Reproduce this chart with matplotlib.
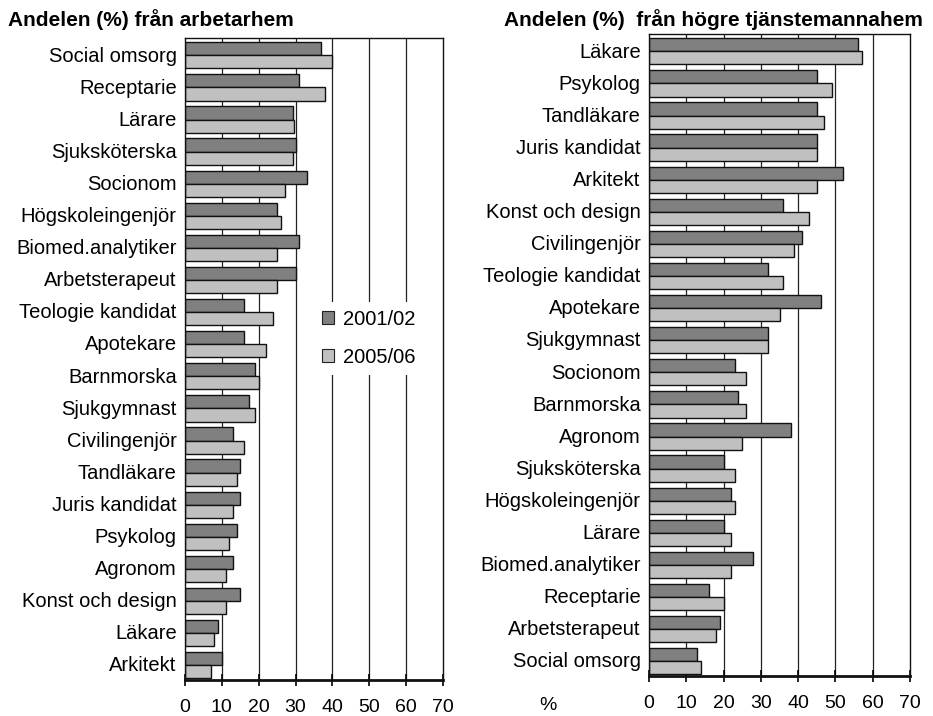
import matplotlib
matplotlib.use("Agg")
import matplotlib.pyplot as plt
from matplotlib.patches import Patch
import numpy as np

plt.rcParams['font.family'] = ['Liberation Sans', 'DejaVu Sans']

# Left panel: share (%) from working-class homes
left_title = "Andelen (%) från arbetarhem"
left_cats = ["Social omsorg", "Receptarie", "Lärare", "Sjuksköterska", "Socionom",
             "Högskoleingenjör", "Biomed.analytiker", "Arbetsterapeut", "Teologie kandidat",
             "Apotekare", "Barnmorska", "Sjukgymnast", "Civilingenjör", "Tandläkare",
             "Juris kandidat", "Psykolog", "Agronom", "Konst och design", "Läkare", "Arkitekt"]
left_2001 = [37, 31, 29.3, 30, 33, 25, 31, 30, 16, 16, 19, 17.3, 13, 15, 15, 14, 13, 15, 9, 10]
left_2005 = [40, 38, 29.7, 29.3, 27, 26, 25, 25, 24, 22, 20, 19, 16, 14, 13, 12, 11, 11, 8, 7]

# Right panel: share (%) from higher white-collar homes
right_title = "Andelen (%)  från högre tjänstemannahem"
right_cats = ["Läkare", "Psykolog", "Tandläkare", "Juris kandidat", "Arkitekt",
              "Konst och design", "Civilingenjör", "Teologie kandidat", "Apotekare",
              "Sjukgymnast", "Socionom", "Barnmorska", "Agronom", "Sjuksköterska",
              "Högskoleingenjör", "Lärare", "Biomed.analytiker", "Receptarie",
              "Arbetsterapeut", "Social omsorg"]
right_2001 = [56, 45, 45, 45, 52, 36, 41, 32, 46, 32, 23, 24, 38, 20, 22, 20, 28, 16, 19, 13]
right_2005 = [57, 49, 47, 45, 45, 43, 39, 36, 35, 32, 26, 26, 25, 23, 23, 22, 22, 20, 18, 14]

series_labels = ["2001/02", "2005/06"]
x_ticks = [0, 10, 20, 30, 40, 50, 60, 70]

DARK = "#808080"
LIGHT = "#c0c0c0"
FS = 14.5
W, H = 933, 716
fig = plt.figure(figsize=(W / 100, H / 100), dpi=100)


def make_axes(l, r, t, b):
    return fig.add_axes([l / W, 1 - b / H, (r - l) / W, (b - t) / H])


def draw_panel(ax, cats, v1, v2, title, title_x):
    n = len(cats)
    y = np.arange(n)
    h = 0.41
    for xv in x_ticks[1:-1]:
        ax.axvline(xv, color="#222222", lw=0.9, zorder=0)
    ax.barh(y - h / 2 + 0.04, v1, height=h, color=DARK, edgecolor="#111111", lw=1.0, zorder=2)
    ax.barh(y + h / 2 + 0.04, v2, height=h, color=LIGHT, edgecolor="#111111", lw=1.0, zorder=2)
    ax.set_xlim(0, 70)
    ax.set_ylim(n - 0.5, -0.5)
    ax.set_yticks(y)
    ax.set_yticklabels(cats, fontsize=FS)
    ax.tick_params(axis="y", length=0, pad=6)
    ax.set_xticks(x_ticks)
    ax.set_xticklabels([str(v) for v in x_ticks], fontsize=14)
    ax.tick_params(axis="x", direction="inout", length=9, width=1.2, pad=9)
    for s in ax.spines.values():
        s.set_linewidth(1.0)
        s.set_color("#111111")
    ax.spines["bottom"].set_linewidth(2.0)
    fig.text(title_x / W, 1 - 20 / H, title, fontsize=15, fontweight="bold",
             ha="left", va="center")


axL = make_axes(185, 443, 38, 680)
draw_panel(axL, left_cats, left_2001, left_2005, left_title, 8)
axR = make_axes(649, 910, 34, 676)
draw_panel(axR, right_cats, right_2001, right_2005, right_title, 504)

handles = [Patch(facecolor=DARK, edgecolor="#222222", lw=0.8),
           Patch(facecolor=LIGHT, edgecolor="#222222", lw=0.8)]
leg = axL.legend(handles, series_labels, loc="upper left",
                 bbox_to_anchor=(0.46, 0.605), frameon=True, fontsize=FS,
                 handlelength=0.6, handleheight=0.6, handletextpad=0.45,
                 labelspacing=0.95, borderpad=0.4, fancybox=False)
leg.get_frame().set_edgecolor("none")
leg.get_frame().set_facecolor("white")
leg.get_frame().set_alpha(1)
leg.set_zorder(5)

fig.text(548 / W, 1 - 706 / H, "%", fontsize=14, ha="center", va="center")

fig.savefig("out.png", dpi=100)
